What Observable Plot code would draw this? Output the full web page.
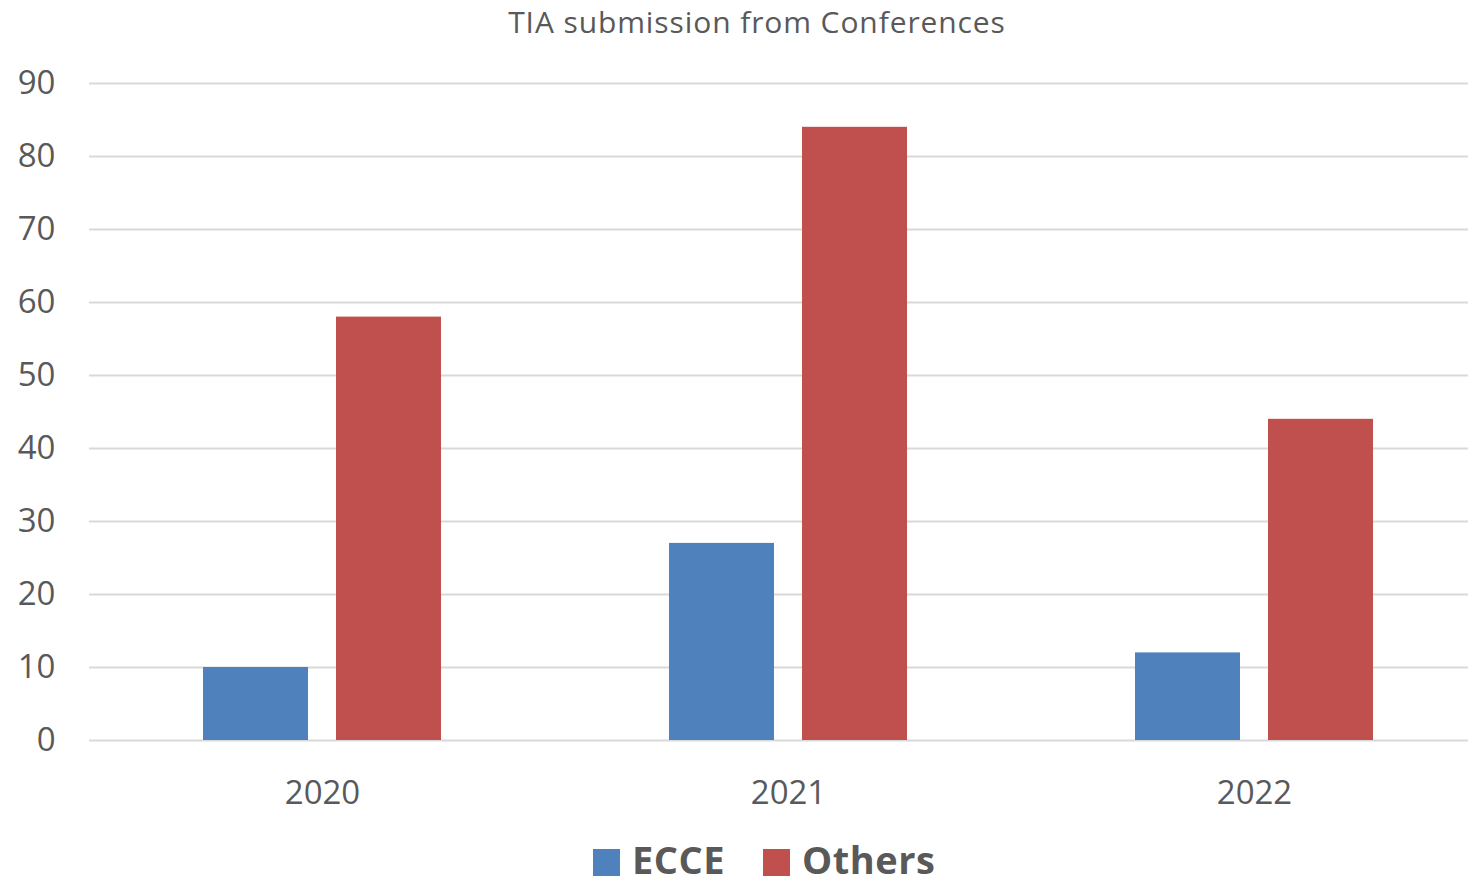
<!DOCTYPE html>
<html>
<head>
<meta charset="utf-8">
<script src="https://cdn.jsdelivr.net/npm/d3@7"></script>
<script src="https://cdn.jsdelivr.net/npm/@observablehq/plot@0.6"></script>
<style>
  html, body { margin: 0; padding: 0; background: #fff; }
  #wrap { position: relative; width: 1468px; height: 886px; overflow: hidden; font-family: "Open Sans", sans-serif; color: #595959; }
  #chart { position: absolute; left: 0; top: 0; }
  #title { position: absolute; top: 2px; left: 757px; transform: translateX(-50%); font-size: 30px; letter-spacing: 0.9px; line-height: 40px; white-space: nowrap; }
  #legend { position: absolute; top: 840px; left: 593px; display: flex; align-items: center; font-size: 38px; line-height: 38px; font-weight: bold; white-space: nowrap; }
  #legend .sw { display: inline-block; width: 27px; height: 27px; margin-right: 12px; margin-top: 6px; }
  #legend .item { display: flex; align-items: center; margin-right: 38px; }
  #legend .txt { letter-spacing: 0.5px; }
</style>
</head>
<body>
<div id="wrap">
  <div id="chart"></div>
  <div id="title">TIA submission from Conferences</div>
  <div id="legend"></div>
</div>
<script>
const years = ["2020", "2021", "2022"];
const series = ["ECCE", "Others"];
const ecce = [10, 27, 12];
const others = [58, 84, 44];
const yTicks = [0, 10, 20, 30, 40, 50, 60, 70, 80, 90];
const colors = ["#4F81BD", "#C0504D"];

const rows = [];
years.forEach((y, i) => {
  rows.push({year: y, series: "ECCE", value: ecce[i]});
  rows.push({year: y, series: "Others", value: others[i]});
});

const chart = Plot.plot({
  width: 1468,
  height: 886,
  marginLeft: 89,
  marginRight: 0,
  marginTop: 83,
  marginBottom: 146,
  style: {fontFamily: "Open Sans, sans-serif", color: "#595959", background: "#fff"},
  x: {type: "band", domain: years, range: [89, 1487], padding: 0, label: null},
  y: {domain: [0, 90], ticks: yTicks, label: null},
  color: {domain: series, range: colors},
  marks: [
    Plot.ruleY(yTicks, {stroke: "#D9D9D9", strokeWidth: 2}),
    Plot.barY(rows.filter(d => d.series === "ECCE"), {x: "year", y: "value", fill: "series", insetLeft: 114, insetRight: 247}),
    Plot.barY(rows.filter(d => d.series === "Others"), {x: "year", y: "value", fill: "series", insetLeft: 247, insetRight: 114}),
    Plot.axisY(yTicks, {tickSize: 0, tickPadding: 34, fontSize: 33, fill: "#595959", label: null}),
    Plot.axisX(years, {tickSize: 0, tickPadding: 40, fontSize: 33, fill: "#595959", label: null})
  ]
});
document.getElementById("chart").appendChild(chart);

const legend = document.getElementById("legend");
series.forEach((s, i) => {
  const item = document.createElement("div");
  item.className = "item";
  const sw = document.createElement("span");
  sw.className = "sw";
  sw.style.background = colors[i];
  item.appendChild(sw);
  const t = document.createElement("span");
  t.className = "txt";
  t.textContent = s;
  item.appendChild(t);
  legend.appendChild(item);
});
</script>
</body>
</html>
